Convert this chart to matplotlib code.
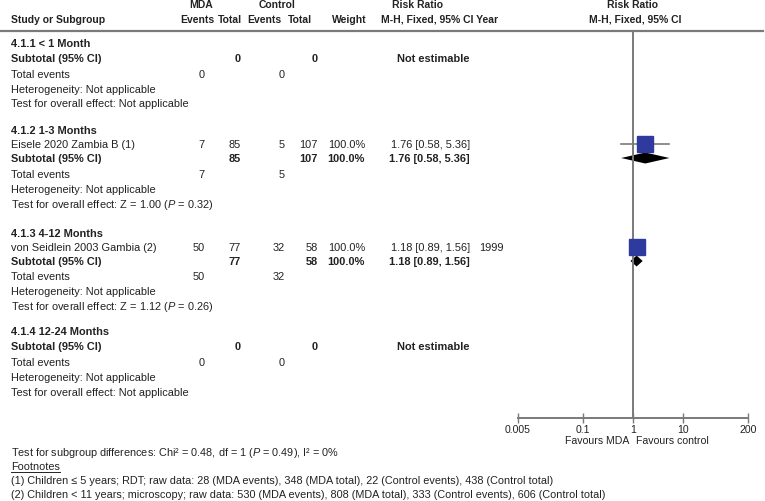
import numpy as np
import matplotlib.pyplot as plt
from matplotlib import font_manager

# subgroups and their studies
groups = ['4.1.1 < 1 Month', '4.1.2 1-3 Months', '4.1.3 4-12 Months', '4.1.4 12-24 Months']
study_names = ['', 'Eisele 2020 Zambia B (1)', 'von Seidlein 2003 Gambia (2)', '']
study_year = ['', '', '1999', '']
mda_events = [0, 7, 50, 0]
mda_total = [0, 85, 77, 0]
ctl_events = [0, 5, 32, 0]
ctl_total = [0, 107, 58, 0]
weights = [0, 100.0, 100.0, 0]
rr = [np.nan, 1.76, 1.18, np.nan]
rr_lo = [np.nan, 0.58, 0.89, np.nan]
rr_hi = [np.nan, 5.36, 1.56, np.nan]
overall_z = [None, '1.00', '1.12', None]
overall_p = [None, '0.32', '0.26', None]

tick_vals = [0.005, 0.1, 1, 10, 200]
tick_labels = ['0.005', '0.1', '1', '10', '200']

footnotes = [
    '(1) Children \u2264 5 years; RDT; raw data: 28 (MDA events), 348 (MDA total), 22 (Control events), 438 (Control total)',
    '(2) Children < 11 years; microscopy; raw data: 530 (MDA events), 808 (MDA total), 333 (Control events), 606 (Control total)',
]

# look
W, H = 765, 502
txt_col = '#222222'
line_col = '#7a7a7a'
sq_col = '#2e3a9e'
fs = 7.9
fs_head = 7.5
main_font = ['Liberation Sans', 'DejaVu Sans']
names = {f.name for f in font_manager.fontManager.ttflist}
narrow_font = ['Liberation Sans Narrow', 'Liberation Sans', 'DejaVu Sans'] if 'Liberation Sans Narrow' in names else main_font

plt.rcParams['font.family'] = main_font
plt.rcParams['mathtext.fontset'] = 'custom'
plt.rcParams['mathtext.rm'] = 'Liberation Sans'
plt.rcParams['mathtext.it'] = 'Liberation Sans:italic'
plt.rcParams['mathtext.bf'] = 'Liberation Sans:bold'

# column anchors (pixels)
x_lab = 11
x_mev, x_mtot, x_cev, x_ctot, x_w, x_ci, x_yr = 205, 241, 285, 318, 365, 470, 479

# row positions for each subgroup block (pixels from top)
rows = [
    dict(head=44, study=None, sub=59, tot=75, het=90, test=104),
    dict(head=131, study=145, sub=159, tot=175, het=190, test=205),
    dict(head=234, study=248, sub=262, tot=277, het=292, test=307),
    dict(head=332, study=None, sub=347, tot=363, het=378, test=393),
]
axis_y, head_line_y = 419, 32

fig = plt.figure(figsize=(W / 100, H / 100), dpi=100)
ax = fig.add_axes([0, 0, 1, 1])
ax.set_xlim(0, W)
ax.set_ylim(H, 0)
ax.axis('off')


def t(x, y, s, ha='left', bold=False, size=fs, family=None):
    return ax.text(x, y, s, ha=ha, va='center', fontsize=size, color=txt_col,
                   fontweight='bold' if bold else 'normal',
                   family=family or main_font)


# header
t(201, 5, 'MDA', 'center', True, fs_head)
t(277, 5, 'Control', 'center', True, fs_head)
t(418, 5, 'Risk Ratio', 'center', True, fs_head)
t(633, 5, 'Risk Ratio', 'center', True, fs_head)
t(x_lab, 20, 'Study or Subgroup', bold=True, size=fs_head)
t(197, 20, 'Events', 'center', True, fs_head)
t(230, 20, 'Total', 'center', True, fs_head)
t(264, 20, 'Events', 'center', True, fs_head)
t(300, 20, 'Total', 'center', True, fs_head)
t(349, 20, 'Weight', 'center', True, fs_head)
t(440, 20, 'M-H, Fixed, 95% CI Year', 'center', True, fs_head)
t(635, 20, 'M-H, Fixed, 95% CI', 'center', True, fs_head)
ax.plot([0, W - 2], [head_line_y, head_line_y], color=line_col, lw=1.6)

# forest axes
fx0, fx1 = 518, 748
fax = fig.add_axes([fx0 / W, (H - axis_y) / H, (fx1 - fx0) / W, (axis_y - head_line_y) / H])
fax.set_xscale('log')
fax.set_xlim(tick_vals[0], tick_vals[-1])
fax.set_ylim(axis_y, head_line_y)
fax.patch.set_alpha(0)
for sp in ['top', 'left', 'right']:
    fax.spines[sp].set_visible(False)
fax.spines['bottom'].set_color(line_col)
fax.spines['bottom'].set_linewidth(1.4)
fax.set_yticks([])
fax.set_xticks(tick_vals)
fax.set_xticks([], minor=True)
fax.set_xticklabels(tick_labels, family=narrow_font, fontsize=7.6, color=txt_col)
fax.tick_params(axis='x', direction='inout', length=7, width=1, color=line_col, pad=0.5)
fax.axvline(1, color=line_col, lw=1.4)

for i, g in enumerate(groups):
    r = rows[i]
    t(x_lab, r['head'], g, bold=True)
    if study_names[i]:
        y = r['study']
        t(x_lab, y, study_names[i])
        t(x_mev, y, str(mda_events[i]), 'right')
        t(x_mtot, y, str(mda_total[i]), 'right')
        t(x_cev, y, str(ctl_events[i]), 'right')
        t(x_ctot, y, str(ctl_total[i]), 'right')
        t(x_w, y, f'{weights[i]:.1f}%', 'right')
        t(x_ci, y, f'{rr[i]:.2f} [{rr_lo[i]:.2f}, {rr_hi[i]:.2f}]', 'right')
        if study_year[i]:
            t(x_yr, y, study_year[i])
        fax.plot([rr_lo[i], rr_hi[i]], [y - 0.5, y - 0.5], color=line_col, lw=1.2)
        fax.plot(rr[i], y - 0.5, 's', ms=11.5, color=sq_col, mec=sq_col)
    y = r['sub']
    t(x_lab, y, 'Subtotal (95% CI)', bold=True)
    t(x_mtot, y, str(mda_total[i]), 'right', True)
    t(x_ctot, y, str(ctl_total[i]), 'right', True)
    if np.isnan(rr[i]):
        t(x_ci, y, 'Not estimable', 'right', True)
    else:
        t(x_w, y, f'{weights[i]:.1f}%', 'right', True)
        t(x_ci, y, f'{rr[i]:.2f} [{rr_lo[i]:.2f}, {rr_hi[i]:.2f}]', 'right', True)
        dh = 5.5
        fax.fill([rr_lo[i], rr[i], rr_hi[i], rr[i]], [y, y - dh, y, y + dh],
                 color='black', lw=0)
    y = r['tot']
    t(x_lab, y, 'Total events')
    t(x_mev, y, str(mda_events[i]), 'right')
    t(x_cev, y, str(ctl_events[i]), 'right')
    t(x_lab, r['het'], 'Heterogeneity: Not applicable')
    if overall_z[i] is None:
        t(x_lab, r['test'], 'Test for overall effect: Not applicable')
    else:
        t(x_lab, r['test'], f'Test for overall effect: Z = {overall_z[i]} ($P$ = {overall_p[i]})')

# favours labels
t(629, 441.5, 'Favours MDA', 'right', size=7.6, family=narrow_font)
t(636, 441.5, 'Favours control', 'left', size=7.6, family=narrow_font)

# bottom notes
t(x_lab, 453, 'Test for subgroup differences: Chi\u00b2 = 0.48, df = 1 ($P$ = 0.49), I\u00b2 = 0%',
  size=7.8, family=narrow_font)
fn = t(x_lab, 467, 'Footnotes', size=7.8, family=narrow_font)
for k, s in enumerate(footnotes):
    t(x_lab, 481 + 14 * k, s, size=7.8, family=narrow_font)

fig.canvas.draw()
bb = fn.get_window_extent().transformed(ax.transData.inverted())
ax.plot([bb.x0, bb.x1], [max(bb.y0, bb.y1) + 0.5] * 2, color=txt_col, lw=0.7)

fig.savefig('out.png', dpi=100)
